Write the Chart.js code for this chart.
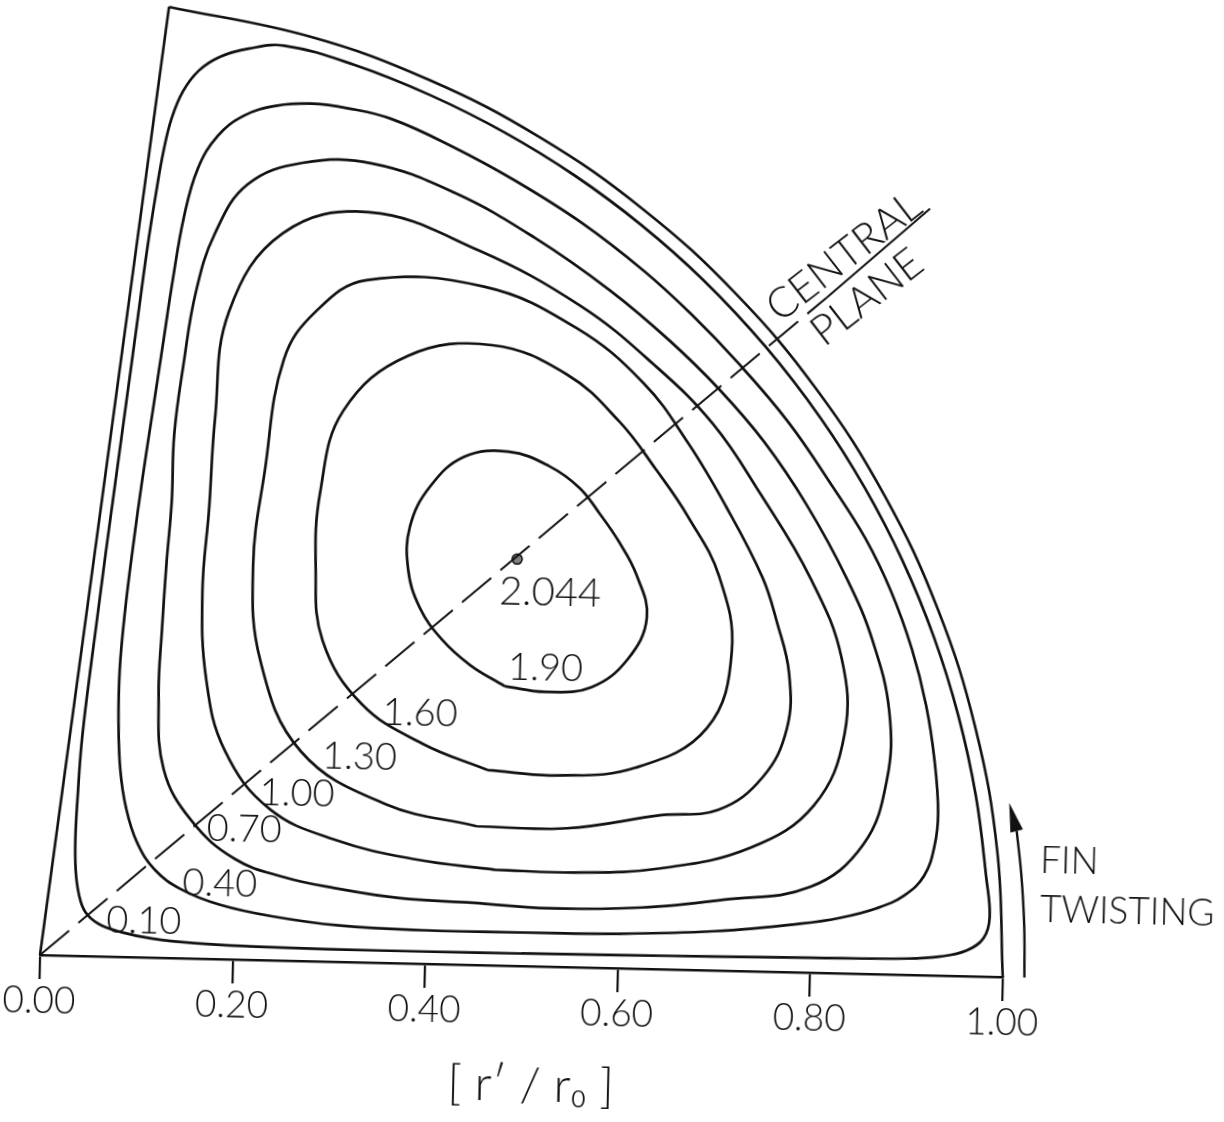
<!DOCTYPE html>
<html><head><meta charset="utf-8">
<style>
html,body{margin:0;padding:0;background:#fff;overflow:hidden;width:1224px;height:1122px;}
#wrap{position:absolute;left:0;top:-30px;width:1224px;height:1152px;transform-origin:40px 985px;transform:rotate(1.31deg);}
canvas{display:block;}
</style>
<script src="https://cdn.jsdelivr.net/npm/chart.js@4.4.1/dist/chart.umd.min.js"></script>
</head><body>
<div id="wrap"><canvas id="c" width="1224" height="1152"></canvas></div>
<script>
// ---- axis ----
const xTicks = [0, 0.2, 0.4, 0.6, 0.8, 1.0];
const tickLabels = ['0.00','0.20','0.40','0.60','0.80','1.00'];
const axisTitle = '\u2002[ r\u2032 / r\u2080 ]';

// ---- contour levels and their traced curves (x along fin r'/r0, y normal to it) ----
const levels = ['0.10','0.40','0.70','1.00','1.30','1.60','1.90'];
const c010 = [[0.50,0.0132],[0.40,0.0128],[0.30,0.013],[0.22,0.014],[0.16,0.016],[0.115,0.020],[0.083,0.026],[0.060,0.034],[0.046,0.046],[0.039,0.064],[0.035,0.090],[0.034,0.125],[0.0355,0.170],[0.038,0.220],[0.0435,0.280],[0.0505,0.345],[0.0585,0.420],[0.0675,0.500],[0.0765,0.580],[0.0855,0.660],[0.0945,0.740],[0.1025,0.800],[0.1095,0.845],[0.117,0.878],[0.128,0.906],[0.144,0.928],[0.166,0.943],[0.195,0.952],[0.232,0.956],[0.3047,0.9378],[0.3852,0.9076],[0.4629,0.8705],[0.5370,0.8270],[0.6071,0.7770],[0.6725,0.7212],[0.7385,0.6533],[0.7977,0.5796],[0.8452,0.5078],[0.8862,0.4323],[0.9205,0.3534],[0.9478,0.2717],[0.9679,0.1881],[0.9806,0.1030],[0.985,0.062],[0.979,0.040],[0.962,0.027],[0.935,0.020],[0.90,0.017],[0.80,0.0155],[0.70,0.0145],[0.60,0.0138],[0.50,0.0132]];
const c040 = [[0.50,0.035],[0.40,0.035],[0.31,0.038],[0.24,0.046],[0.185,0.057],[0.145,0.072],[0.117,0.092],[0.098,0.120],[0.086,0.155],[0.079,0.195],[0.076,0.245],[0.076,0.300],[0.080,0.360],[0.087,0.430],[0.095,0.500],[0.104,0.570],[0.113,0.640],[0.122,0.710],[0.132,0.775],[0.145,0.825],[0.165,0.860],[0.192,0.882],[0.225,0.893],[0.262,0.896],[0.300,0.892],[0.345,0.882],[0.408,0.855],[0.474,0.821],[0.545,0.778],[0.611,0.729],[0.661,0.685],[0.711,0.635],[0.764,0.575],[0.812,0.508],[0.847,0.455],[0.875,0.400],[0.898,0.340],[0.914,0.282],[0.924,0.225],[0.929,0.170],[0.926,0.135],[0.916,0.104],[0.896,0.083],[0.868,0.069],[0.830,0.058],[0.790,0.051],[0.70,0.041],[0.60,0.036],[0.50,0.035]];
const c070 = [[0.448,0.065],[0.528,0.061],[0.624,0.064],[0.708,0.074],[0.798,0.0895],[0.852,0.135],[0.875,0.203],[0.876,0.274],[0.857,0.348],[0.829,0.412],[0.785,0.489],[0.740,0.553],[0.692,0.607],[0.639,0.657],[0.576,0.708],[0.497,0.761],[0.413,0.806],[0.326,0.835],[0.254,0.834],[0.197,0.810],[0.164,0.757],[0.146,0.696],[0.135,0.621],[0.127,0.547],[0.126,0.477],[0.122,0.412],[0.119,0.345],[0.117,0.274],[0.124,0.197],[0.154,0.144],[0.200,0.105],[0.252,0.087],[0.304,0.077],[0.372,0.068],[0.448,0.065]];
const c100 = [[0.470,0.100],[0.552,0.099],[0.640,0.105],[0.735,0.129],[0.800,0.175],[0.830,0.250],[0.825,0.330],[0.791,0.412],[0.737,0.499],[0.686,0.571],[0.624,0.631],[0.546,0.691],[0.438,0.747],[0.324,0.784],[0.235,0.760],[0.181,0.677],[0.169,0.565],[0.165,0.471],[0.160,0.383],[0.166,0.292],[0.187,0.218],[0.235,0.158],[0.305,0.127],[0.387,0.109],[0.470,0.100]];
const c130 = [[0.450,0.145],[0.544,0.145],[0.642,0.161],[0.701,0.168],[0.746,0.203],[0.770,0.2545],[0.771,0.312],[0.757,0.366],[0.741,0.412],[0.701,0.486],[0.661,0.550],[0.613,0.612],[0.542,0.668],[0.445,0.709],[0.323,0.713],[0.272,0.680],[0.239,0.628],[0.222,0.512],[0.212,0.412],[0.222,0.312],[0.266,0.219],[0.355,0.166],[0.450,0.145]];
const c160 = [[0.460,0.204],[0.534,0.200],[0.614,0.210],[0.687,0.253],[0.711,0.334],[0.696,0.412],[0.663,0.4725],[0.628,0.522],[0.589,0.571],[0.5335,0.619],[0.455,0.648],[0.368,0.635],[0.302,0.576],[0.280,0.491],[0.277,0.412],[0.286,0.335],[0.328,0.270],[0.392,0.230],[0.460,0.204]];
const c190 = [[0.476,0.292],[0.519,0.287],[0.566,0.293],[0.603,0.323],[0.622,0.367],[0.610,0.412],[0.591,0.446],[0.571,0.474],[0.549,0.501],[0.517,0.523],[0.475,0.537],[0.429,0.531],[0.394,0.499],[0.374,0.457],[0.373,0.412],[0.386,0.372],[0.410,0.339],[0.440,0.313],[0.476,0.292]];
const contours = [c010, c040, c070, c100, c130, c160, c190];

// ---- peak ----
const peakPoint = [[0.486,0.425]];
const peakValue = '2.044';

// ---- fin sector outline, central plane, twist arrow ----
const boundaryArc = [[1,0],[0.99144,0.13053],[0.96593,0.25882],[0.92388,0.38268],[0.86603,0.5],[0.79335,0.60876],[0.70711,0.70711],[0.60876,0.79335],[0.5,0.86603],[0.38268,0.92388],[0.25882,0.96593],[0.11147,0.99377]];
const leftEdge = [[0,0],[0.11147,0.99377]];
const centralPlane = [[0,0],[0.8015,0.7061]];
const centralPlaneEnd = [[0.8015,0.7061],[0.9063,0.8010]];
const twistArrow = [[1.0225,0],[1.0211,0.0535],[1.0169,0.1069],[1.0110,0.1529]];
const twistArrowTip = [1.0026,0.1822];

// ---- annotation placement ----
const labelAt = {'0.10':[0.107,0.038],'0.40':[0.185,0.079],'0.70':[0.209,0.136],'1.00':[0.263,0.175],'1.30':[0.327,0.215],'1.60':[0.389,0.262],'1.90':[0.518,0.312]};
const peakLabelAt = [0.521,0.391];
const notes = [
  {text:'CENTRAL', at:[0.818,0.749], rot:-39, size:42, align:'center'},
  {text:'PLANE', at:[0.843,0.707], rot:-39, size:42, align:'center'},
  {text:'FIN', at:[1.036,0.122], rot:0, size:37, align:'left'},
  {text:'TWISTING', at:[1.037,0.0705], rot:0, size:37, align:'left'}
];

const INK = '#111';
const FONT = "Lato, 'Liberation Sans', Arial, sans-serif";
const xy = a => a.map(p => ({x:p[0], y:p[1]}));
const curve = (pts, o) => Object.assign({data: xy(pts), showLine:true, pointRadius:0, borderColor:INK, borderWidth:2.7, tension:0.4, fill:false, clip:false}, o||{});

const datasets = [
  curve(boundaryArc, {borderWidth:2.6}),
  curve(leftEdge, {tension:0, borderWidth:2.6}),
  curve(centralPlane, {tension:0, borderWidth:2, borderDash:[38,12]}),
  curve(centralPlaneEnd, {tension:0, borderWidth:2}),
  curve(twistArrow, {borderWidth:2.4}),
  ...contours.map(c => curve(c)),
  {data: xy(peakPoint), showLine:false, pointRadius:5, pointBackgroundColor:'#808080', pointBorderColor:INK, pointBorderWidth:1.5, clip:false}
];

const textPlugin = {
  id:'textPlugin',
  afterDatasetsDraw(chart){
    const {ctx, scales:{x, y}} = chart;
    const put = (txt, at, size, rot, align) => {
      ctx.save();
      ctx.translate(x.getPixelForValue(at[0]), y.getPixelForValue(at[1]));
      if (rot) ctx.rotate(rot*Math.PI/180);
      ctx.font = '300 ' + size + 'px ' + FONT;
      ctx.fillStyle = INK;
      ctx.textAlign = align || 'center';
      ctx.textBaseline = 'middle';
      ctx.fillText(txt, 0, 0);
      ctx.restore();
    };
    levels.forEach(l => put(l, labelAt[l], 38));
    put(peakValue, peakLabelAt, 40);
    notes.forEach(n => put(n.text, n.at, n.size, n.rot, n.align));
    // arrow head of the twist arrow
    const b = twistArrow[twistArrow.length-1];
    const bx = x.getPixelForValue(b[0]), by = y.getPixelForValue(b[1]);
    const tx = x.getPixelForValue(twistArrowTip[0]), ty = y.getPixelForValue(twistArrowTip[1]);
    const dx = tx-bx, dy = ty-by, L = Math.hypot(dx,dy), nx = -dy/L*6.5, ny = dx/L*6.5;
    ctx.save();
    ctx.fillStyle = INK;
    ctx.beginPath();
    ctx.moveTo(tx,ty); ctx.lineTo(bx+nx,by+ny); ctx.lineTo(bx-nx,by-ny); ctx.closePath();
    ctx.fill();
    ctx.restore();
  }
};

new Chart(document.getElementById('c'), {
  type:'scatter',
  data:{datasets},
  options:{
    responsive:false, animation:false, devicePixelRatio:1,
    layout:{padding:{left:40, right:221, top:0, bottom:19}},
    plugins:{legend:{display:false}, tooltip:{enabled:false}},
    scales:{
      x:{type:'linear', min:0, max:1,
        afterBuildTicks: s => { s.ticks = xTicks.map(v => ({value:v})); },
        ticks:{callback:(v,i) => tickLabels[i], font:{family:FONT, size:37, weight:'300'}, color:INK, padding:0, maxRotation:0, autoSkip:false},
        grid:{display:true, drawOnChartArea:false, drawTicks:true, tickLength:24, color:INK, lineWidth:2.2},
        border:{display:true, color:INK, width:2.6},
        title:{display:true, text:axisTitle, font:{family:"Lato, 'DejaVu Sans', sans-serif", size:48, weight:'300'}, color:INK, padding:{top:22, bottom:0}}
      },
      y:{type:'linear', min:0, max:1.0227, display:false}
    }
  },
  plugins:[textPlugin]
});
</script>
</body></html>
